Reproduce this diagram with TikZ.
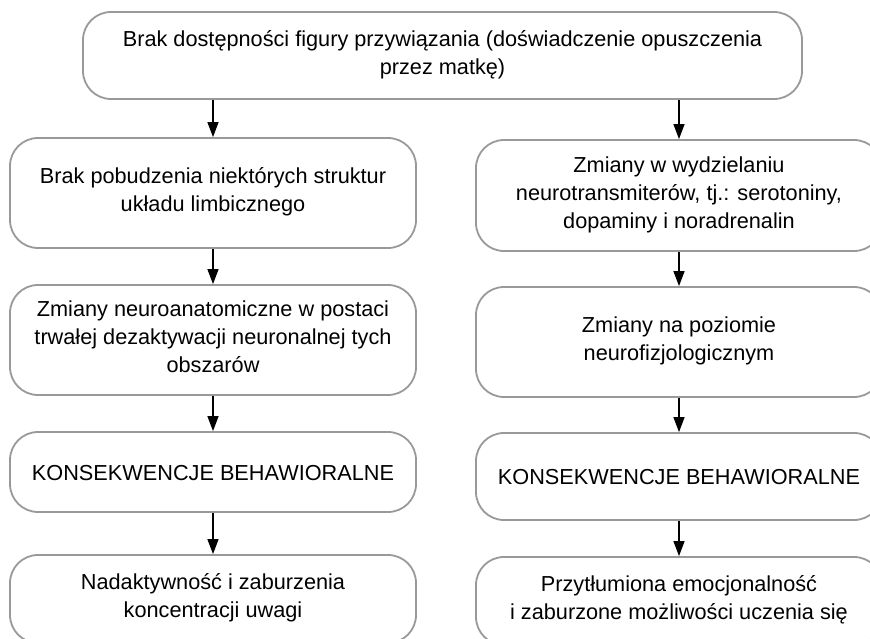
\documentclass[tikz,border=0pt]{standalone}
\usepackage{fontspec}
\setmainfont{Liberation Sans}
\usetikzlibrary{arrows.meta}
\newcommand\linestrut{\rule[-6pt]{0pt}{28pt}}
\tikzset{
  box/.style={draw=black!40, line width=1.8pt, rounded corners=28pt, align=center,
    inner sep=0pt, font=\fontsize{21.7}{28}\selectfont, text=black,
    execute at begin node=\linestrut, execute at end node=\linestrut},
  conn/.style={draw=black, line width=1.3pt, -{Triangle[length=15pt,width=11pt]}}
}
\begin{document}
\begin{tikzpicture}[x=1pt,y={(0pt,-1pt)}]
\useasboundingbox (0,0) rectangle (870,639);
\node[box, minimum width=719pt, minimum height=87pt] (top) at (442.5,55.5)
  {Brak dostępności figury przywiązania (doświadczenie opuszczenia\\ przez matkę)};
\node[box, minimum width=406pt, minimum height=110pt] (l1) at (213,193)
  {Brak pobudzenia niektórych struktur\\ układu limbicznego};
\node[box, minimum width=406pt, minimum height=111pt] (r1) at (679,195.5)
  {Zmiany w wydzielaniu\\ neurotransmiterów, tj.: serotoniny,\\ dopaminy i noradrenalin};
\node[box, minimum width=406pt, minimum height=110pt] (l2) at (213,340)
  {Zmiany neuroanatomiczne w postaci\\ trwałej dezaktywacji neuronalnej tych\\ obszarów};
\node[box, minimum width=406pt, minimum height=110pt] (r2) at (679,342)
  {Zmiany na poziomie\\ neurofizjologicznym};
\node[box, minimum width=406pt, minimum height=80pt] (l3) at (213,472)
  {KONSEKWENCJE BEHAWIORALNE};
\node[box, minimum width=406pt, minimum height=87pt] (r3) at (679,476.5)
  {KONSEKWENCJE BEHAWIORALNE};
\node[box, minimum width=406pt, minimum height=88pt] (l4) at (213,599)
  {Nadaktywność i zaburzenia\\ koncentracji uwagi};
\node[box, minimum width=406pt, minimum height=88pt] (r4) at (679,601)
  {Przytłumiona emocjonalność\\ i zaburzone możliwości uczenia się};
\draw[conn] (top.south -| l1.north) -- (l1.north);
\draw[conn] (top.south -| r1.north) -- (r1.north);
\draw[conn] (l1) -- (l2);
\draw[conn] (l2) -- (l3);
\draw[conn] (l3) -- (l4);
\draw[conn] (r1) -- (r2);
\draw[conn] (r2) -- (r3);
\draw[conn] (r3) -- (r4);
\end{tikzpicture}
\end{document}
